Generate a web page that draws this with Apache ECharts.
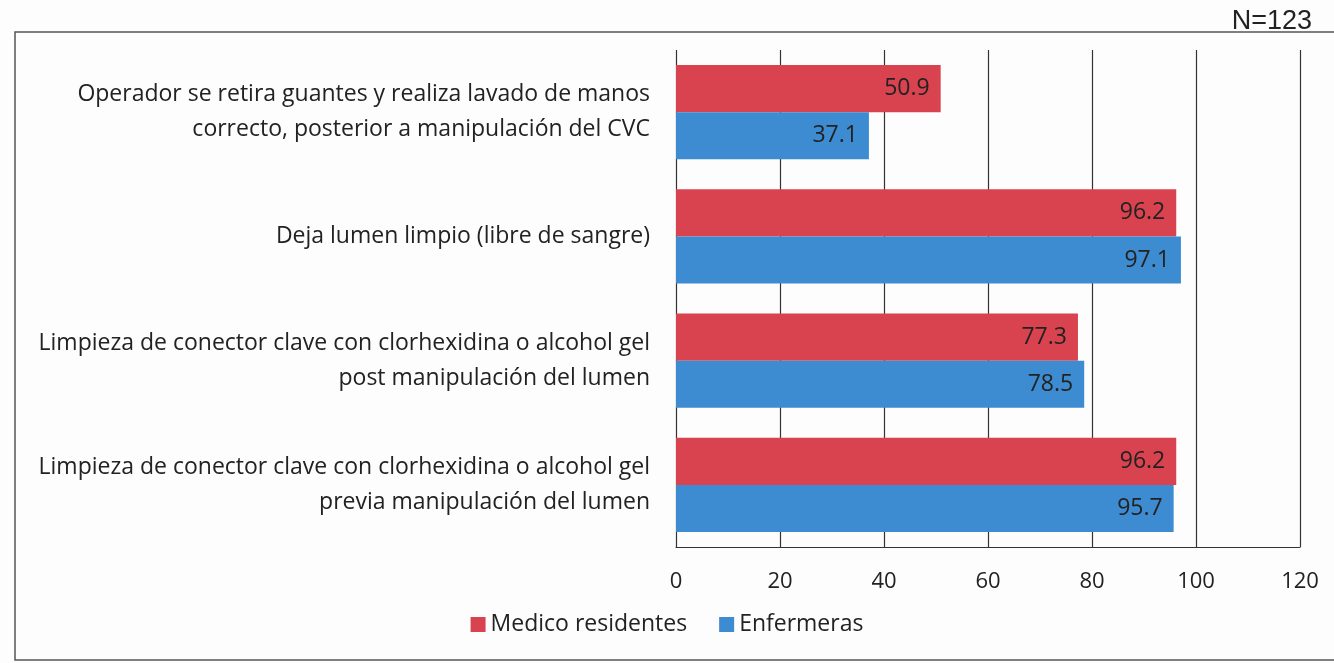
<!DOCTYPE html>
<html><head><meta charset="utf-8">
<script src="https://cdn.jsdelivr.net/npm/echarts@6/dist/echarts.min.js"></script>
<style>html,body{margin:0;padding:0;background:#fff}#c{width:1334px;height:663px}</style>
</head><body><div id="c"></div>
<script>
const categories = [
  "Operador se retira guantes y realiza lavado de manos\ncorrecto, posterior a manipulación del CVC",
  "Deja lumen limpio (libre de sangre)",
  "Limpieza de conector clave con clorhexidina o alcohol gel\npost manipulación del lumen",
  "Limpieza de conector clave con clorhexidina o alcohol gel\nprevia manipulación del lumen"
];
const medicos = [50.9, 96.2, 77.3, 96.2];
const enfermeras = [37.1, 97.1, 78.5, 95.7];
const seriesNames = ["Medico residentes", "Enfermeras"];
const xTicks = [0, 20, 40, 60, 80, 100, 120];

const chart = echarts.init(document.getElementById('c'));
const font = '"Open Sans", Lato, sans-serif';
chart.setOption({
  animation: false,
  backgroundColor: '#fdfdfd',
  graphic: [
    {type: 'rect', shape: {x: 15, y: 32, width: 1330, height: 628}, style: {fill: 'none', stroke: '#555', lineWidth: 1.5}},
    {type: 'text', right: 22, top: 8, style: {text: 'N=123', font: '27px "Liberation Sans", Arial, sans-serif', fill: '#222'}}
  ],
  legend: {
    bottom: 22, left: 'center', itemWidth: 15, itemHeight: 15, itemGap: 32,
    icon: 'rect',
    textStyle: {fontFamily: font, fontSize: 23, color: '#222'},
    data: seriesNames
  },
  grid: {left: 676, right: 34, top: 50, bottom: 116},
  xAxis: {
    type: 'value', min: xTicks[0], max: xTicks[xTicks.length - 1], interval: 20,
    axisLine: {show: true, lineStyle: {color: '#333', width: 1.2}},
    axisTick: {show: false},
    splitLine: {show: true, lineStyle: {color: '#333', width: 1.2}},
    axisLabel: {fontFamily: font, fontSize: 22, color: '#222', margin: 24}
  },
  yAxis: {
    type: 'category', data: categories, inverse: true,
    axisLine: {show: false}, axisTick: {show: false},
    axisLabel: {fontFamily: font, fontSize: 23, color: '#222', lineHeight: 35, margin: 26, align: 'right'}
  },
  series: [
    {name: seriesNames[0], type: 'bar', data: medicos, barGap: '0%', barCategoryGap: '24%',
     itemStyle: {color: '#d8434f'},
     label: {show: true, position: 'insideRight', color: '#222', fontFamily: font, fontSize: 23, offset: [-6, 0]}},
    {name: seriesNames[1], type: 'bar', data: enfermeras,
     itemStyle: {color: '#3d8bd0'},
     label: {show: true, position: 'insideRight', color: '#222', fontFamily: font, fontSize: 23, offset: [-6, 0]}}
  ]
});
</script></body></html>
